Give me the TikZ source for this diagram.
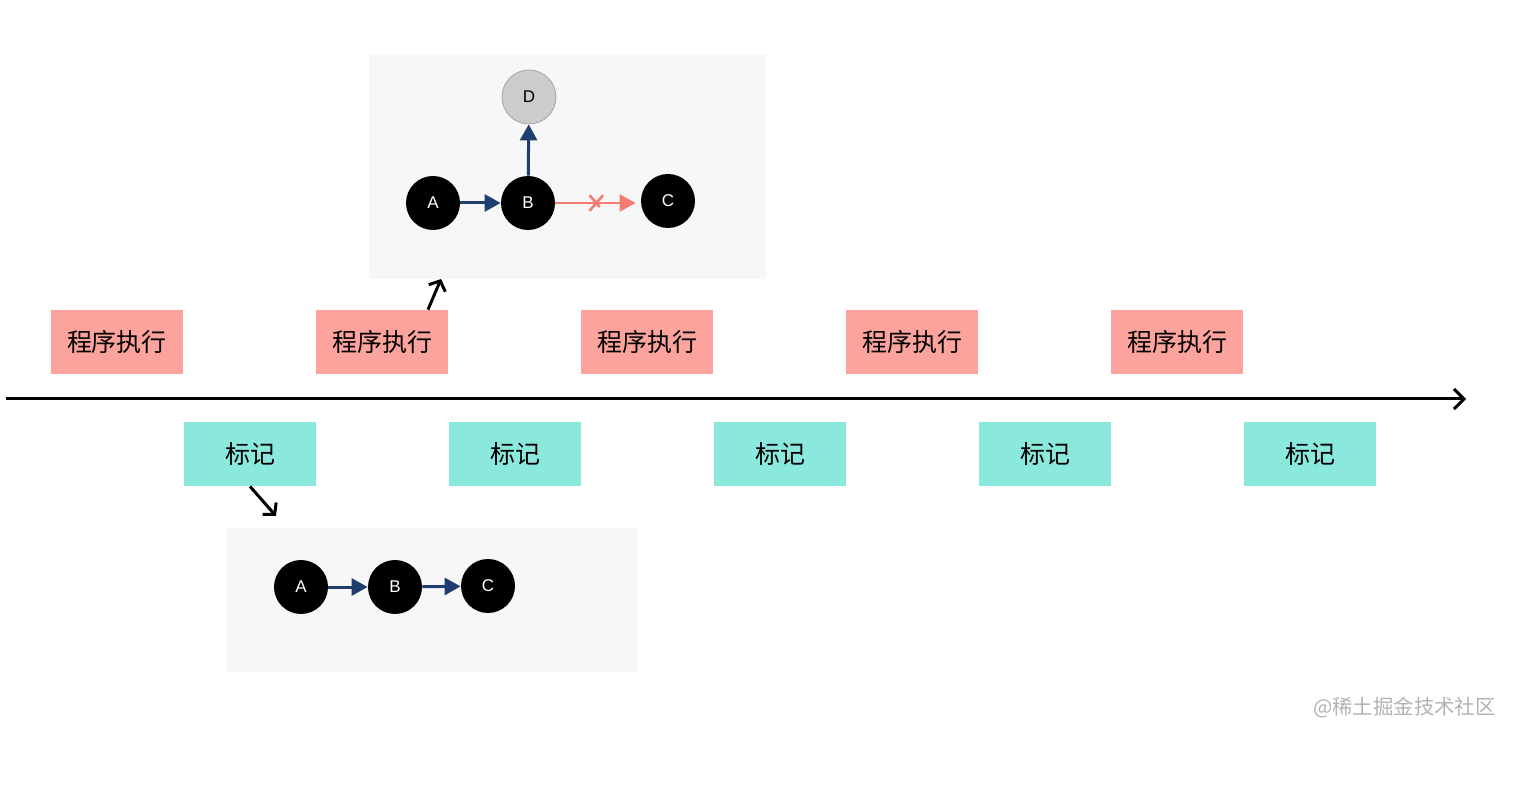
\documentclass[tikz,border=0pt]{standalone}
\usepackage{fontspec}
\setmainfont{Liberation Sans}
\newfontfamily\cjk{Noto Sans CJK SC}
\usetikzlibrary{arrows.meta,shapes.misc}

\definecolor{progpink}{HTML}{FBA39C}
\definecolor{markcyan}{HTML}{8AE8DC}
\definecolor{panelgray}{HTML}{F7F7F7}
\definecolor{edgeblue}{HTML}{1D3E6E}
\definecolor{cutred}{HTML}{F47C73}
\definecolor{ghostgray}{HTML}{CCCCCC}

\begin{document}
\begin{tikzpicture}[
    x=0.5pt, y=-0.5pt,
    % Styles
    progbox/.style={
        rectangle, fill=progpink, text=black,
        font=\cjk\fontsize{12.5}{14}\selectfont,
        inner sep=0pt, minimum width=66pt, minimum height=32pt
    },
    markbox/.style={
        rectangle, fill=markcyan, text=black,
        font=\cjk\fontsize{12.5}{14}\selectfont,
        inner sep=0pt, minimum width=66pt, minimum height=32pt
    },
    graphnode/.style={
        circle, fill=black, text=white,
        font=\fontsize{8.5}{10}\selectfont,
        inner sep=0pt, minimum size=27pt
    },
    ghostnode/.style={
        circle, fill=ghostgray, draw=gray!70, thin, text=black,
        font=\fontsize{8.5}{10}\selectfont,
        inner sep=0pt, minimum size=27pt
    },
    edge/.style={draw=edgeblue, line width=1.5pt, -{Triangle[length=8pt,width=8.5pt]}},
    cutedge/.style={draw=cutred, line width=1.3pt, -{Triangle[length=8pt,width=8.5pt]}, shorten >=2.5pt},
    crossmark/.style={cross out, draw=cutred, line width=1.3pt, inner sep=0pt, minimum width=5.5pt, minimum height=6.5pt},
    axisline/.style={line width=1.5pt, -{Straight Barb[length=5pt,width=10pt,line width=1.5pt]}},
    hintarrow/.style={line width=1.5pt, -{Straight Barb[length=4pt,width=9pt,line width=1.5pt]}},
]

\useasboundingbox (0,0) rectangle (1522,786);

%--- Panels ---%
\fill[panelgray] (369,54) rectangle (766,279);
\fill[panelgray] (226,528) rectangle (637,672);

%--- Time axis ---%
\coordinate (axisstart) at (6,399);
\coordinate (axisend) at (1466,399);
\draw[axisline] (axisstart) -- (axisend);

%--- Execution boxes (above axis) ---
\node[progbox] (prog1) at (117,342) {程序执行};
\node[progbox] (prog2) at (382,342) {程序执行};
\node[progbox] (prog3) at (647,342) {程序执行};
\node[progbox] (prog4) at (912,342) {程序执行};
\node[progbox] (prog5) at (1177,342) {程序执行};

%--- Mark boxes (below axis) ---
\node[markbox] (mark1) at (250,454) {标记};
\node[markbox] (mark2) at (515,454) {标记};
\node[markbox] (mark3) at (780,454) {标记};
\node[markbox] (mark4) at (1045,454) {标记};
\node[markbox] (mark5) at (1310,454) {标记};

%--- Hint arrows to the panels ---
\coordinate (uptip) at (441,279);
\draw[hintarrow] ([xshift=23pt]prog2.north) -- (uptip);
\coordinate (downtip) at (276,516);
\draw[hintarrow] (mark1.south) -- (downtip);

%--- Top panel graph ---
\node[graphnode] (topA) at (433,203) {A};
\node[graphnode] (topB) at (528,203) {B};
\node[graphnode] (topC) at (668,201) {C};
\node[ghostnode] (topD) at (529,97) {D};
\draw[edge] (topA) -- (topB);
\draw[edge] (topB) -- (topD);
\draw[cutedge] (topB.east) -- node[crossmark, pos=0.48] (cutX) {} (topB.east -| topC.west);

%--- Bottom panel graph ---
\node[graphnode] (botA) at (301,587) {A};
\node[graphnode] (botB) at (395,587) {B};
\node[graphnode] (botC) at (488,586) {C};
\draw[edge] (botA) -- (botB);
\draw[edge] (botB) -- (botC);

%--- Watermark ---
\node[anchor=east, inner sep=0pt, text=gray!60, font=\cjk\fontsize{10.2}{12}\selectfont] (watermark) at (1496,708) {@稀土掘金技术社区};

\end{tikzpicture}
\end{document}
